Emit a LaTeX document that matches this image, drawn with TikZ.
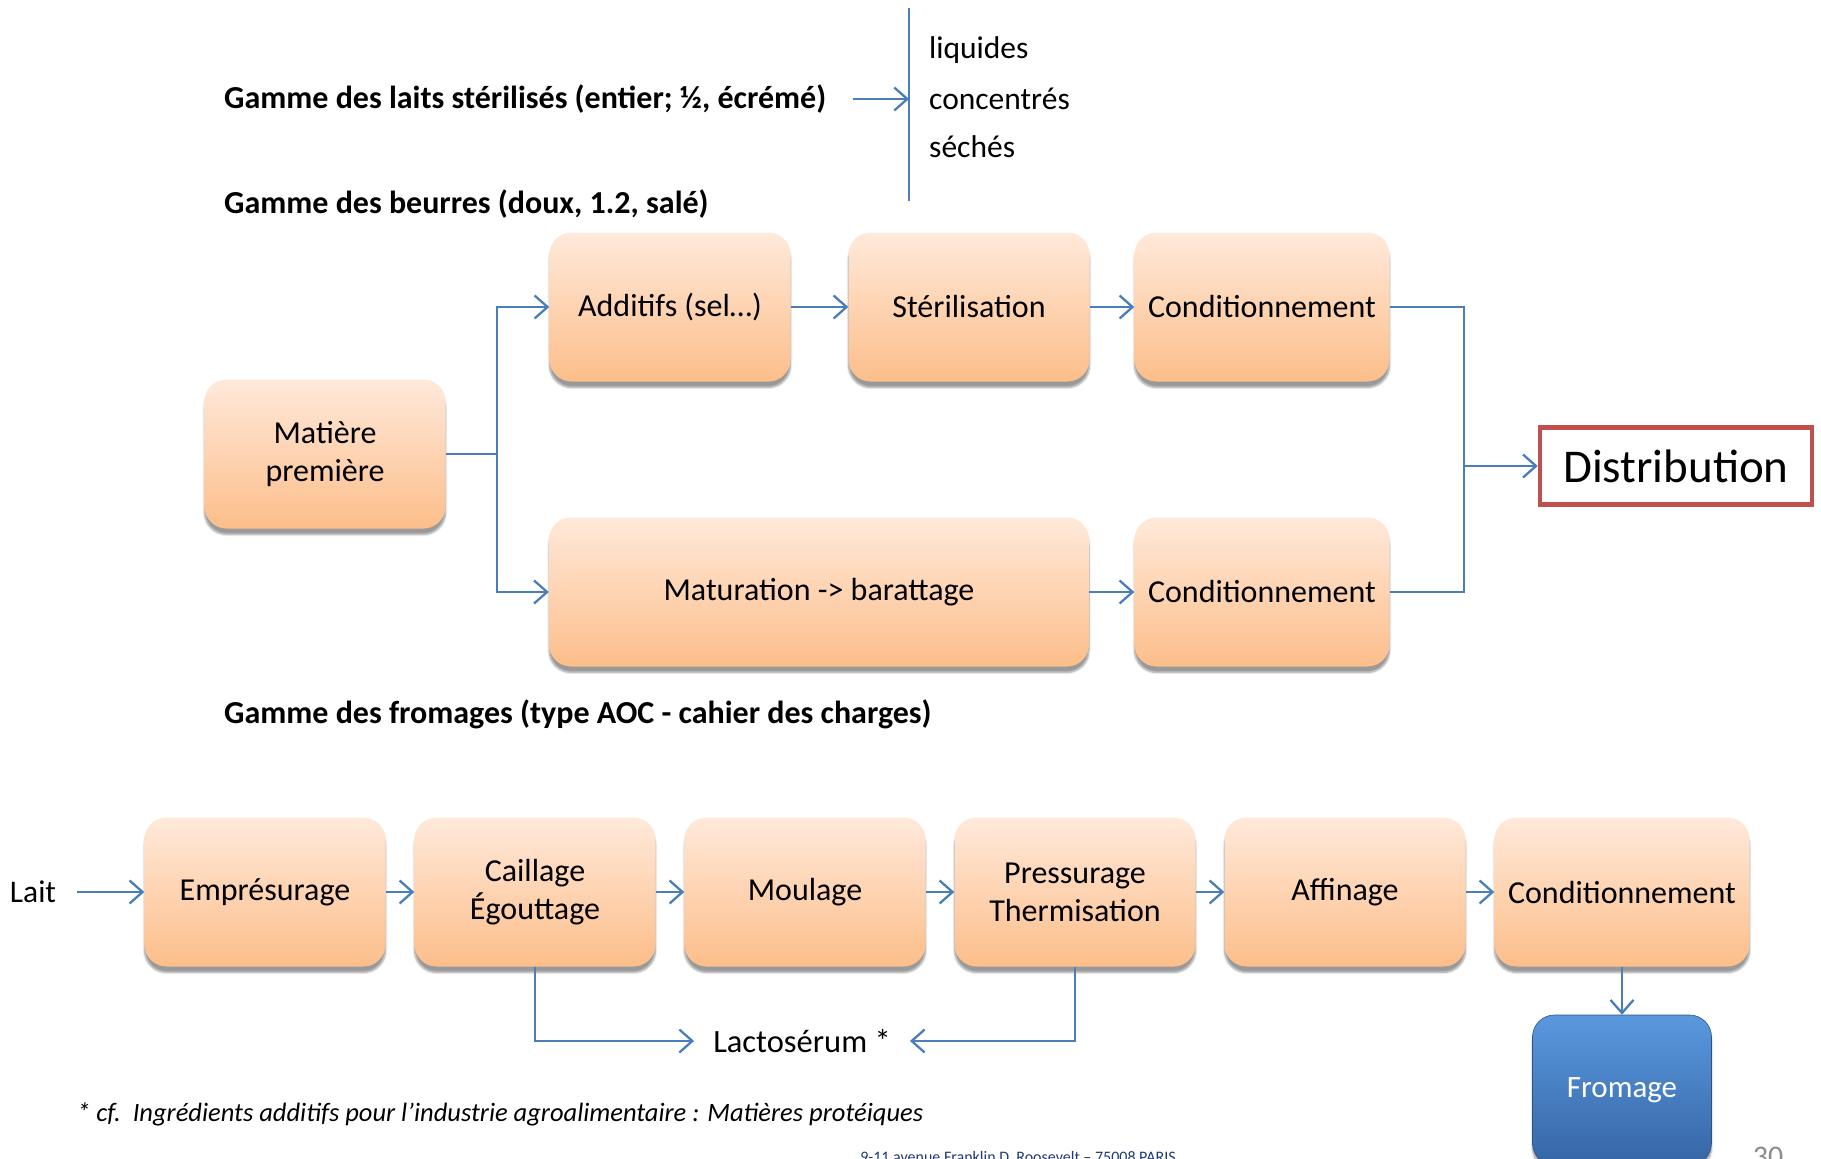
\documentclass[tikz,border=0pt]{standalone}
\usepackage{fontspec}
\setmainfont{Carlito}
\usetikzlibrary{arrows.meta,shadows.blur,calc}
\definecolor{linkblue}{HTML}{4A7EBB}
\definecolor{boxtop}{HTML}{FFE9DA}
\definecolor{boxbot}{HTML}{FCBE8A}
\definecolor{distred}{HTML}{C0504D}
\definecolor{fromtop}{HTML}{5A98DE}
\definecolor{frombot}{HTML}{3566A6}
\definecolor{footblue}{HTML}{1F3A6E}
\definecolor{pagegray}{HTML}{8C8C8C}
\begin{document}
\begin{tikzpicture}[x=1pt,y=-1pt,
  stagebox/.style={rectangle, rounded corners=22pt, minimum height=149pt,
    minimum width=241pt, top color=boxtop, bottom color=boxbot,
    blur shadow={shadow xshift=0pt, shadow yshift=-6pt, shadow blur steps=6, shadow opacity=40},
    font=\fontsize{32}{38}\selectfont, align=center, inner sep=0pt},
  widebox/.style={stagebox, minimum width=255pt},
  heading/.style={anchor=west, inner sep=0pt, font=\bfseries\fontsize{32}{38}\selectfont},
  plain/.style={inner sep=0pt, font=\fontsize{31.5}{37}\selectfont},
  conn/.style={draw=linkblue, line width=2.3pt},
  arr/.style={conn, -{Straight Barb[length=13pt,width=23pt,line width=2.3pt]}},
]
\useasboundingbox (0,0) rectangle (1821,1159);
\clip (0,0) rectangle (1821,1159);

% --- sterilised milks
\node[heading] (laits) at (224,99) {Gamme des laits stérilisés (entier; ½, écrémé)};
\coordinate (vt) at (909,8);
\coordinate (vb) at (909,201);
\draw[conn] (vt) -- (vb);
\draw[arr] ([xshift=26pt]laits.east) -- (laits.east -| vt);
\node[plain, anchor=west] (liq) at (929,50) {liquides};
\node[plain, anchor=west] (conc) at (929,99) {concentrés};
\node[plain, anchor=west] (sech) at (929,147) {séchés};

% --- butters
\node[heading] (beurres) at (224,204) {Gamme des beurres (doux, 1.2, salé)};
\node[stagebox] (mp) at (325,454) {Matière\\première};
\node[stagebox] (add) at (670,307) {Additifs (sel…)};
\node[stagebox] (ster) at (969,307) {Stérilisation};
\node[widebox] (cb1) at (1262,307) {Conditionnement};
\node[stagebox, minimum width=540pt] (mat) at (819,592) {Maturation -> barattage};
\node[widebox] (cb2) at (1262,592) {Conditionnement};
\node[draw=distred, line width=4.5pt, minimum width=272pt, minimum height=77pt,
      inner sep=0pt, font=\fontsize{47}{56}\selectfont] (dist) at (1676,466) {Distribution};

\coordinate (split) at (497,454);
\coordinate (merge) at (1464,466);
\draw[conn] (mp.east) -- (split);
\draw[arr] (split) |- (add.west);
\draw[arr] (split) |- (mat.west);
\draw[arr] (add) -- (ster);
\draw[arr] (ster) -- (cb1);
\draw[arr] (mat) -- (cb2);
\draw[conn] (cb1.east) -| (merge);
\draw[conn] (cb2.east) -| (merge);
\draw[arr] (merge) -- (dist.west);

% --- cheeses
\node[heading] (fromages) at (224,714) {Gamme des fromages (type AOC - cahier des charges)};
\node[plain] (lait) at (33,892) {Lait};
\node[stagebox] (e1) at (265,892) {Emprésurage};
\node[stagebox] (e2) at (535,892) {Caillage\\Égouttage};
\node[stagebox] (e3) at (805,892) {Moulage};
\node[stagebox] (e4) at (1075,892) {Pressurage\\Thermisation};
\node[stagebox] (e5) at (1345,892) {Affinage};
\node[widebox] (e6) at (1622,892) {Conditionnement};
\node[rectangle, rounded corners=22pt, minimum width=179pt, minimum height=150pt,
      top color=fromtop, bottom color=frombot, draw=frombot!80!black, line width=0.6pt,
      text=white, font=\fontsize{31}{37}\selectfont, inner sep=0pt,
      blur shadow={shadow xshift=0pt, shadow yshift=-5pt, shadow blur steps=5, shadow opacity=40}]
      (fro) at (1622,1090) {Fromage};
\node[plain, inner xsep=19pt, font=\fontsize{32.5}{38}\selectfont] (lacto) at (802,1041) {Lactosérum *};

\draw[arr] ([xshift=21pt]lait.east) -- (e1.west);
\draw[arr] (e1) -- (e2);
\draw[arr] (e2) -- (e3);
\draw[arr] (e3) -- (e4);
\draw[arr] (e4) -- (e5);
\draw[arr] (e5) -- (e6);
\draw[arr] (e6.south) -- (fro.north);
\draw[arr] (e2.south) |- (lacto.west);
\draw[arr] (e4.south) |- (lacto.east);

% --- footnote and footer
\node[anchor=west, inner sep=0pt, font=\itshape\fontsize{26.5}{32}\selectfont] (note) at (77,1114)
  {* cf.\ \ Ingrédients additifs pour l’industrie agroalimentaire : Matières protéiques};
\node[anchor=base, inner sep=0pt, text=footblue, font=\fontsize{16}{19}\selectfont] (addr) at (1018,1162)
  {9-11 avenue Franklin D. Roosevelt – 75008 PARIS};
\node[anchor=base, inner sep=0pt, text=pagegray, font=\fontsize{30}{36}\selectfont] (page) at (1768,1166) {30};
\end{tikzpicture}
\end{document}
